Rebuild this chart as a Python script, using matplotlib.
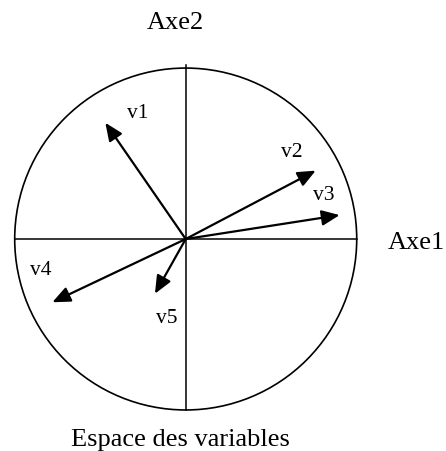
import matplotlib.pyplot as plt
from matplotlib.patches import Circle

# correlation circle coordinates
names = ["v1", "v2", "v3", "v4", "v5"]
axe1 = [-0.47, 0.76, 0.90, -0.78, -0.18]
axe2 = [0.68, 0.40, 0.14, -0.37, -0.32]
# label positions next to each arrow
lab_x = [-0.28, 0.62, 0.81, -0.85, -0.11]
lab_y = [0.74, 0.51, 0.26, -0.18, -0.46]

plt.rcParams['font.family'] = ['Liberation Serif', 'DejaVu Serif']

fig = plt.figure(figsize=(4.46, 4.52), dpi=100)
ax = fig.add_axes([0, 0, 1, 1])
ax.set_xlim(-1.086, 1.522)
ax.set_ylim(-1.240, 1.404)
ax.axis('off')

#circle and the two axes
ax.add_patch(Circle((0, 0), 1.0, fill=False, color='black', lw=1.2))
ax.plot([-1.0, 1.0], [0, 0], color='black', lw=1.1)
ax.plot([0, 0], [-1.0, 1.02], color='black', lw=1.1)

for n, x, y, lx, ly in zip(names, axe1, axe2, lab_x, lab_y):
    ax.annotate('', xy=(x, y), xytext=(0, 0),
                arrowprops=dict(arrowstyle='-|>,head_length=0.6,head_width=0.26',
                                mutation_scale=18, color='black', lw=1.6,
                                shrinkA=0, shrinkB=0))
    ax.text(lx, ly, n, fontsize=15.5, ha='center', va='center')

ax.text(-0.06, 1.27, "Axe2", fontsize=19, ha='center', va='center')
ax.text(1.35, -0.02, "Axe1", fontsize=19, ha='center', va='center')
ax.text(-0.03, -1.17, "Espace des variables", fontsize=19, ha='center', va='center')

plt.savefig('out.png', dpi=100)
